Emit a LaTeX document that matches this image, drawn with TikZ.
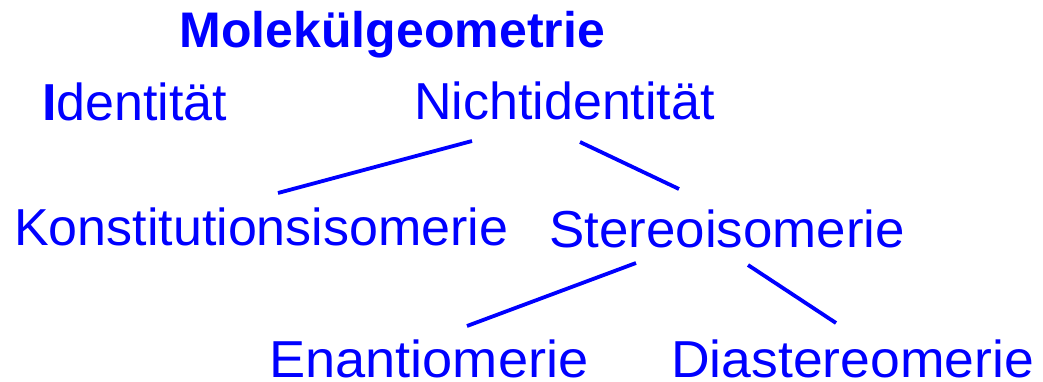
\documentclass[tikz,border=0pt]{standalone}
\usepackage{fontspec}
\setmainfont{Liberation Sans}
\newfontfamily\stretchS[FakeStretch=1.017]{Liberation Sans}
\newfontfamily\stretchE[FakeStretch=1.042]{Liberation Sans}
\newfontfamily\stretchD[FakeStretch=1.029]{Liberation Sans}
\usetikzlibrary{calc}
\begin{document}
\begin{tikzpicture}[x=1pt,y=-1pt,
  lbl/.style={anchor=base west,inner sep=0pt,text=blue,font=\fontsize{52}{60}\selectfont},
  ttl/.style={anchor=base west,inner sep=0pt,text=blue,font=\fontsize{50}{58}\selectfont\bfseries},
  conn/.style={draw=blue,line width=3.8pt}]
\useasboundingbox (0,0) rectangle (1043,382);
\node[ttl] (mol) at (179.5,48) {Molekülgeometrie};
\node[lbl] (ident) at (42,121) {\textbf{I}dentität};
\node[lbl] (nicht) at (414,120) {Nichtidentität};
\node[lbl] (konst) at (14,245) {Konstitutionsisomerie};
\node[lbl] (stereo) at (549,247) {\stretchS Stereoisomerie};
\node[lbl] (enant) at (269,377) {\stretchE Enantiomerie};
\node[lbl] (diast) at (671,377) {\stretchD Diastereomerie};
\draw[conn] ($(nicht.base west)+(58,21)$) -- ($(konst.base west)+(264,-52)$);
\draw[conn] ($(nicht.base west)+(166,22)$) -- ($(stereo.base west)+(130,-58)$);
\draw[conn] ($(stereo.base west)+(87,16)$) -- ($(enant.base west)+(198,-51)$);
\draw[conn] ($(stereo.base west)+(199,18)$) -- ($(diast.base west)+(165,-54)$);
\end{tikzpicture}
\end{document}
